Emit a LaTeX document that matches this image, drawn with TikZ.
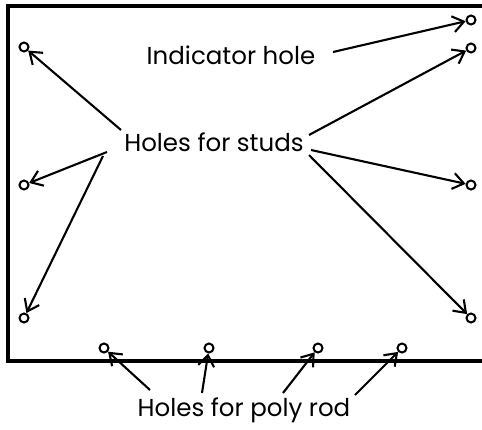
\documentclass[tikz,border=0pt]{standalone}
\usepackage{fontspec}
\setmainfont{Poppins}
\usetikzlibrary{arrows.meta}
\begin{document}
\begin{tikzpicture}[x=1pt,y=-1pt,
  hole/.style={circle,draw,line width=2pt,inner sep=0pt,minimum size=9pt,fill=white},
  lbl/.style={font=\fontsize{24.5}{28}\selectfont,inner sep=1pt},
  arr/.style={line width=2.1pt,-{Straight Barb[length=11pt,width=16pt,line width=2.1pt]}},
  frame/.style={line width=3.5pt}]
\useasboundingbox (0,0) rectangle (482,429);
\draw[frame] (482,6) -- (8,6) -- (8,361) -- (482,361);
% holes
\node[hole] (l1) at (24,47) {};
\node[hole] (l2) at (24,185) {};
\node[hole] (l3) at (24,318) {};
\node[hole] (r0) at (471,20) {};
\node[hole] (r1) at (471,48) {};
\node[hole] (r2) at (471,185) {};
\node[hole] (r3) at (471,318) {};
\node[hole] (b1) at (104,348) {};
\node[hole] (b2) at (209,348) {};
\node[hole] (b3) at (318,348) {};
\node[hole] (b4) at (402,348) {};
% labels
\node[lbl] (ind) at (231,55) {Indicator hole};
\node[lbl] (studs) at (214,142) {Holes for studs};
\node[lbl] (poly) at (244,410) {Holes for poly rod};
% start coordinates
\coordinate (si) at (333,52);
\coordinate (s1) at (121,130);
\coordinate (s2) at (107,152);
\coordinate (s3) at (103,156);
\coordinate (s4) at (309,135);
\coordinate (s5) at (311,150);
\coordinate (s6) at (309,155);
\coordinate (p1) at (150,390);
\coordinate (p2) at (202,393);
\coordinate (p3) at (283,393);
\coordinate (p4) at (355,395);
% arrows
\draw[arr] (si) -- (r0);
\draw[arr] (s1) -- (l1);
\draw[arr] (s2) -- (l2);
\draw[arr] (s3) -- (l3);
\draw[arr] (s4) -- (r1);
\draw[arr] (s5) -- (r2);
\draw[arr] (s6) -- (r3);
\draw[arr] (p1) -- (b1);
\draw[arr] (p2) -- (b2);
\draw[arr] (p3) -- (b3);
\draw[arr] (p4) -- (b4);
\end{tikzpicture}
\end{document}
